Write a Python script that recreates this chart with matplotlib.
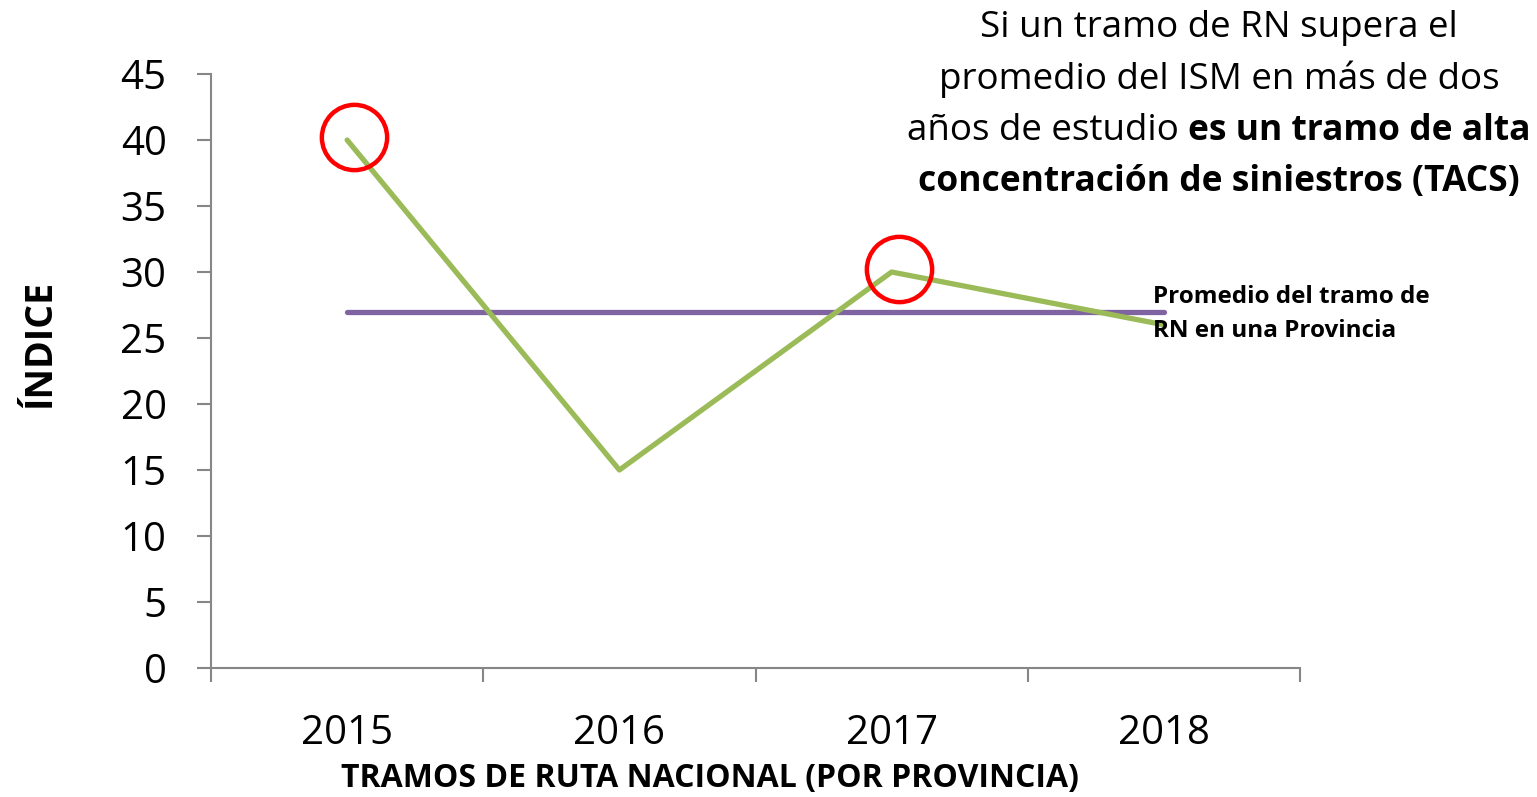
import matplotlib.pyplot as plt
from matplotlib.transforms import offset_copy

anios = ["2015", "2016", "2017", "2018"]
indice = [40, 15, 30, 26]
promedio = [27, 27, 27, 27]
destacados = [0, 2]  # años que superan el promedio

plt.rcParams['font.family'] = ['Open Sans', 'DejaVu Sans']

W, H = 1537, 797
fig = plt.figure(figsize=(W / 100, H / 100), dpi=100)
ax = fig.add_axes([211 / W, 1 - 668 / H, (1300 - 211) / W, (668 - 74) / H])

x = list(range(len(anios)))
ax.plot(x, indice, color="#9BBB59", lw=3.8, solid_capstyle="round", zorder=3)
ax.plot(x, promedio, color="#8064A2", lw=3.8, solid_capstyle="round", zorder=2)
# circulos rojos un poco corridos respecto al punto
circ_tr = offset_copy(ax.transData, fig=fig, x=5, y=2, units="points")
ax.plot([x[i] for i in destacados], [indice[i] for i in destacados], "o",
        ms=47, mfc="none", mec="#FF0000", mew=3.2, zorder=4, transform=circ_tr)

ax.set_xlim(-0.5, len(anios) - 0.5)
ax.set_ylim(0, 45)
ax.set_yticks(range(0, 46, 5))
ax.set_xticks(x)
ax.set_xticklabels(anios)
ax.set_xticks([i - 0.5 for i in range(len(anios) + 1)], minor=True)
ax.tick_params(axis="x", which="major", length=0, labelsize=29, pad=33)
ax.tick_params(axis="x", which="minor", length=10, width=1.5, color="#868686")
ax.tick_params(axis="y", length=10, width=1.5, color="#868686", labelsize=29, pad=22)

for s in ["top", "right"]:
    ax.spines[s].set_visible(False)
for s in ["left", "bottom"]:
    ax.spines[s].set_color("#868686")
    ax.spines[s].set_linewidth(1.5)

fig.text(40 / W, 1 - 343 / H, "ÍNDICE", fontsize=27, fontweight="bold",
         rotation=90, ha="center", va="center")
fig.text(710 / W, 1 - 778 / H, "TRAMOS DE RUTA NACIONAL (POR PROVINCIA)", fontsize=23,
         fontweight="bold", ha="center", va="center")

fig.text(1153 / W, 1 - 297 / H, "Promedio del tramo de", fontsize=17.5, fontweight="bold",
         ha="left", va="center", zorder=5)
fig.text(1153 / W, 1 - 331 / H, "RN en una Provincia", fontsize=17.5, fontweight="bold",
         ha="left", va="center", zorder=5)

fig.text(1219 / W, 1 - 28 / H, "Si un tramo de RN supera el", fontsize=26.5,
         ha="center", va="center")
fig.text(1219 / W, 1 - 79 / H, "promedio del ISM en más de dos", fontsize=26.5,
         ha="center", va="center")
fig.text(907 / W, 1 - 131 / H, "años de estudio", fontsize=26.5, ha="left", va="center")
fig.text(1530 / W, 1 - 131 / H, "es un tramo de alta", fontsize=25.5, ha="right", va="center",
         fontweight="bold")
fig.text(1219 / W, 1 - 182 / H, "concentración de siniestros (TACS)", fontsize=25.5,
         ha="center", va="center", fontweight="bold")

fig.savefig("out.png", dpi=100)
